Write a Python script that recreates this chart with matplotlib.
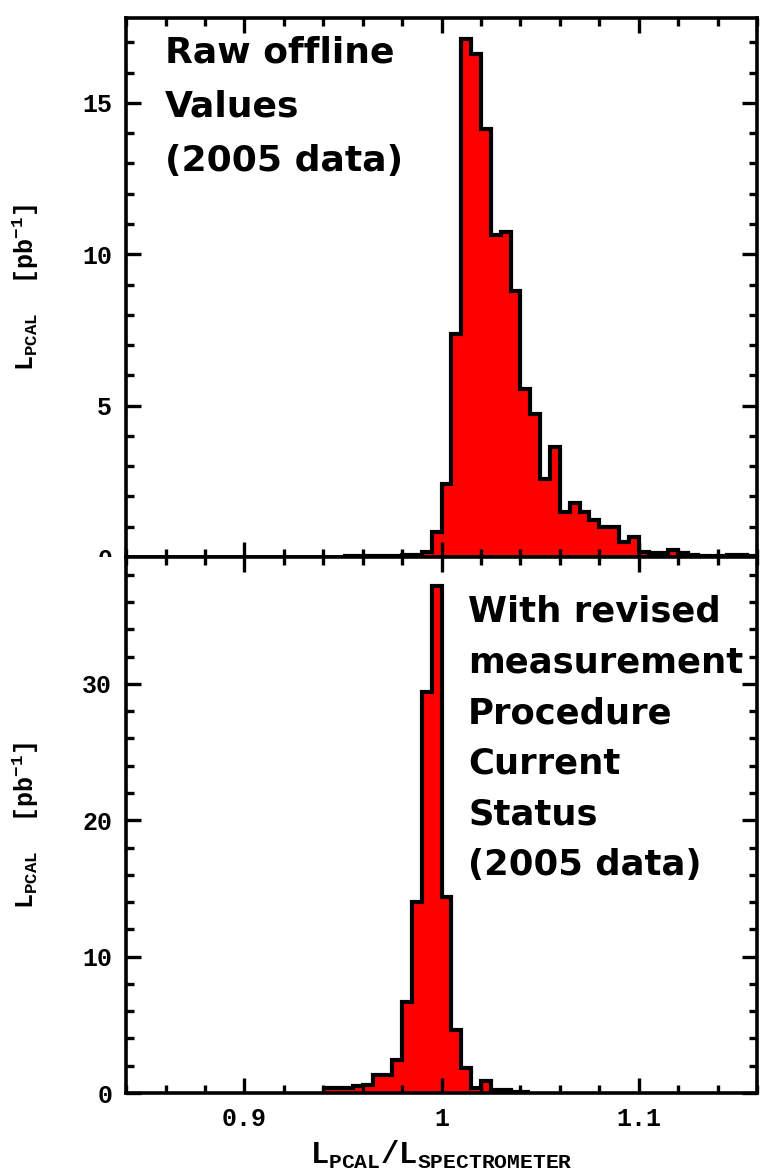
"""Luminosity ratio histograms: raw offline vs revised procedure."""

import matplotlib
matplotlib.use("Agg")
import matplotlib.pyplot as plt
import numpy as np
from matplotlib.font_manager import FontProperties
from matplotlib.patches import Rectangle
from matplotlib.ticker import FixedLocator, FuncFormatter, MultipleLocator

# ---------------------------------------------------------------------------
# Data (bin contents, bin width 0.005)
# ---------------------------------------------------------------------------
BIN_WIDTH = 0.005

raw_start = 0.950
raw_values = [
    0.02, 0.03, 0.03, 0.05, 0.05, 0.05, 0.08, 0.08, 0.15, 0.83,
    2.42, 7.37, 17.1, 16.6, 14.15, 10.65, 10.75, 8.8, 5.55, 4.73,
    2.59, 3.63, 1.49, 1.77, 1.49, 1.22, 1.0, 1.0, 0.5, 0.67,
    0.17, 0.12, 0.12, 0.23, 0.12, 0.07, 0.03, 0.03, 0.02, 0.07,
    0.07, 0.03,
]

revised_start = 0.940
revised_values = [
    0.35, 0.4, 0.4, 0.53, 0.6, 1.3, 1.3, 2.44, 6.7, 14.0,
    29.4, 37.2, 14.4, 4.63, 1.83, 0.37, 0.9, 0.24, 0.24, 0.1,
    0.1,
]

x_range = (0.84, 1.16)
raw_ylim = (0, 17.8)
revised_ylim = (0, 39.3)
x_major = [0.9, 1.0, 1.1]
raw_y_major = [0, 5, 10, 15]
revised_y_major = [0, 10, 20, 30]

raw_text = "Raw offline\nValues\n(2005 data)"
revised_text = "With revised\nmeasurement\nProcedure\nCurrent\nStatus\n(2005 data)"
ylabel = r"$L_{PCAL}$  [pb$^{-1}$]"
xlabel = r"$L_{PCAL}/L_{SPECTROMETER}$"

plt.rcParams["mathtext.fontset"] = "custom"
plt.rcParams["mathtext.rm"] = "Liberation Mono:bold"
plt.rcParams["mathtext.it"] = "Liberation Mono:bold"
plt.rcParams["mathtext.bf"] = "Liberation Mono:bold"

TICK_FONT = dict(family="Liberation Mono", weight="bold", size=18)


def _edges(start, values):
    return start + BIN_WIDTH * np.arange(len(values) + 1)


def _style_axes(ax, y_major, y_minor):
    for sp in ax.spines.values():
        sp.set_linewidth(2.6)
    ax.set_xlim(*x_range)
    ax.xaxis.set_major_locator(FixedLocator(x_major))
    ax.xaxis.set_minor_locator(MultipleLocator(0.02))
    ax.yaxis.set_major_locator(FixedLocator(y_major))
    ax.yaxis.set_minor_locator(MultipleLocator(y_minor))
    ax.tick_params(which="both", direction="in", top=True, right=True, width=2.4)
    ax.tick_params(which="major", length=11, pad=10)
    ax.tick_params(which="minor", length=6)
    fmt = FuncFormatter(lambda v, _: f"{v:g}")
    ax.xaxis.set_major_formatter(fmt)
    ax.yaxis.set_major_formatter(fmt)
    for lab in ax.get_xticklabels() + ax.get_yticklabels():
        lab.set_fontproperties(FontProperties(**TICK_FONT))
    ax.set_ylabel(ylabel, fontsize=18, fontfamily="Liberation Mono", fontweight="bold")
    ax.yaxis.set_label_coords(-0.135, 0.5)


fig = plt.figure(figsize=(7.6, 11.69), dpi=100)
ax_top = fig.add_axes([0.166, 0.5235, 0.830, 0.461])
ax_bot = fig.add_axes([0.166, 0.065, 0.830, 0.4585])

ax_top.stairs(raw_values, _edges(raw_start, raw_values), fill=True,
              facecolor="#ff0000", edgecolor="none")
ax_top.stairs(raw_values, _edges(raw_start, raw_values), baseline=None,
              color="black", linewidth=3)
ax_top.set_ylim(*raw_ylim)
_style_axes(ax_top, raw_y_major, 1)
ax_top.tick_params(labelbottom=False)
ax_top.text(0.062, 0.968, raw_text, transform=ax_top.transAxes, va="top", ha="left",
            fontsize=26, fontweight="bold", fontfamily="DejaVu Sans", linespacing=1.75)

ax_bot.stairs(revised_values, _edges(revised_start, revised_values), fill=True,
              facecolor="#ff0000", edgecolor="none")
ax_bot.stairs(revised_values, _edges(revised_start, revised_values), baseline=None,
              color="black", linewidth=3)
ax_bot.set_ylim(*revised_ylim)
_style_axes(ax_bot, revised_y_major, 2)
ax_bot.text(0.542, 0.93, revised_text, transform=ax_bot.transAxes, va="top", ha="left",
            fontsize=25.5, fontweight="bold", fontfamily="DejaVu Sans", linespacing=1.62)
ax_bot.set_xlabel(xlabel, fontsize=22, labelpad=6)

# lower panel hides the bottom half of the upper "0" label
fig.patches.append(Rectangle((0.0, 0.5235 - 0.011), 0.16, 0.011,
                             transform=fig.transFigure, facecolor="white",
                             edgecolor="none", zorder=5))

fig.savefig("out.png", dpi=100)
